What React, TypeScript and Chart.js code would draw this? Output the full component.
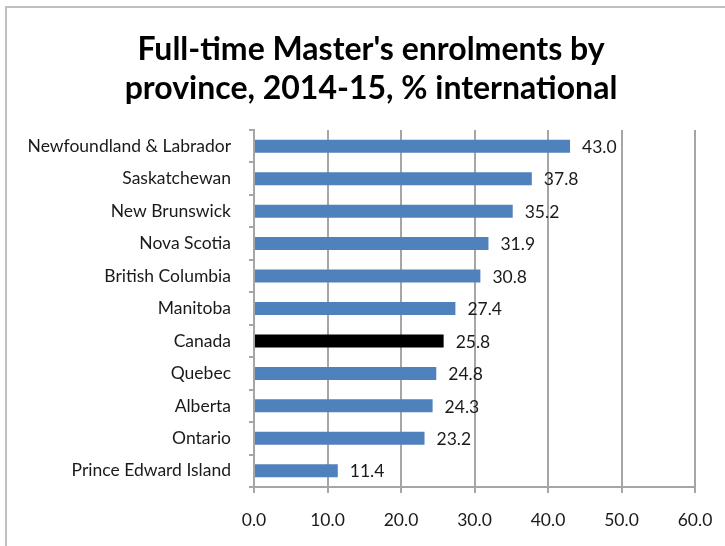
import React, { useEffect, useRef } from "react";
import { Chart, registerables } from "chart.js";

Chart.register(...registerables);

const titleLines = ["Full-time Master's enrolments by", "province, 2014-15, % international"];
const categories = [
  "Newfoundland & Labrador",
  "Saskatchewan",
  "New Brunswick",
  "Nova Scotia",
  "British Columbia",
  "Manitoba",
  "Canada",
  "Quebec",
  "Alberta",
  "Ontario",
  "Prince Edward Island",
];
const values = [43.0, 37.8, 35.2, 31.9, 30.8, 27.4, 25.8, 24.8, 24.3, 23.2, 11.4];
const highlight = "Canada";
const xMin = 0;
const xMax = 60;
const xStep = 10;

const FONT = "Lato, 'Open Sans', sans-serif";
const LABEL_SIZE = 17.5;

const framePlugin = {
  id: "frame",
  beforeDraw(chart: any) {
    const ctx = chart.ctx;
    ctx.save();
    ctx.fillStyle = "#ffffff";
    ctx.fillRect(0, 0, chart.width, chart.height);
    ctx.strokeStyle = "#c0c0c0";
    ctx.lineWidth = 2;
    ctx.beginPath();
    ctx.moveTo(6, chart.height);
    ctx.lineTo(6, 7);
    ctx.lineTo(chart.width, 7);
    ctx.stroke();
    ctx.restore();
  },
};

const titlePlugin = {
  id: "centredTitle",
  afterDraw(chart: any) {
    const ctx = chart.ctx;
    ctx.save();
    ctx.font = `bold 32px ${FONT}`;
    ctx.fillStyle = "#000000";
    ctx.textAlign = "center";
    ctx.textBaseline = "middle";
    titleLines.forEach((line, i) => {
      ctx.fillText(line, 371, 50 + i * 38.5);
    });
    ctx.restore();
  },
};

const labelPlugin = {
  id: "valueLabels",
  afterDatasetsDraw(chart: any) {
    const ctx = chart.ctx;
    const meta = chart.getDatasetMeta(0);
    ctx.save();
    ctx.font = `${LABEL_SIZE}px ${FONT}`;
    ctx.fillStyle = "#1a1a1a";
    ctx.textAlign = "left";
    ctx.textBaseline = "middle";
    meta.data.forEach((bar: any, i: number) => {
      ctx.fillText(values[i].toFixed(1), bar.x + 12, bar.y + 1);
    });
    ctx.restore();
  },
};

export default function App() {
  const ref = useRef<HTMLCanvasElement>(null);
  useEffect(() => {
    if (!ref.current) return;
    const chart = new Chart(ref.current, {
      type: "bar",
      data: {
        labels: categories,
        datasets: [
          {
            data: values,
            backgroundColor: categories.map((c) => (c === highlight ? "#000000" : "#4f81bd")),
            barPercentage: 0.4,
            categoryPercentage: 1,
          },
        ],
      },
      options: {
        indexAxis: "y",
        responsive: false,
        animation: false,
        layout: { padding: { left: 0, right: 0, top: 130, bottom: 0 } },
        plugins: {
          legend: { display: false },
          tooltip: { enabled: false },
          title: { display: false },
        },
        scales: {
          x: {
            min: xMin,
            max: xMax,
            ticks: {
              stepSize: xStep,
              color: "#1a1a1a",
              font: { family: FONT, size: LABEL_SIZE },
              padding: 17,
              callback: (v: any) => Number(v).toFixed(1),
            },
            grid: { color: "#a6a6a6", lineWidth: 2, tickLength: 6 },
            border: { color: "#a6a6a6", width: 2 },
            afterFit: (s: any) => {
              s.height = 59;
              s.paddingLeft = 0;
              s.paddingRight = 30;
              s.paddingTop = 0;
              s.paddingBottom = 0;
            },
          },
          y: {
            ticks: {
              color: "#1a1a1a",
              font: { family: FONT, size: LABEL_SIZE },
              padding: 18,
            },
            grid: { drawOnChartArea: false, offset: true, color: "#a6a6a6", lineWidth: 2, tickLength: 5 },
            border: { color: "#a6a6a6", width: 2 },
            afterFit: (s: any) => {
              s.width = 254;
              s.paddingTop = 0;
              s.paddingBottom = 0;
            },
          },
        },
      },
      plugins: [framePlugin, labelPlugin, titlePlugin],
    });
    return () => chart.destroy();
  }, []);
  return (
    <div style={{ position: "absolute", left: 0, top: 0, width: 725, height: 546 }}>
      <canvas ref={ref} width={725} height={546} />
    </div>
  );
}
